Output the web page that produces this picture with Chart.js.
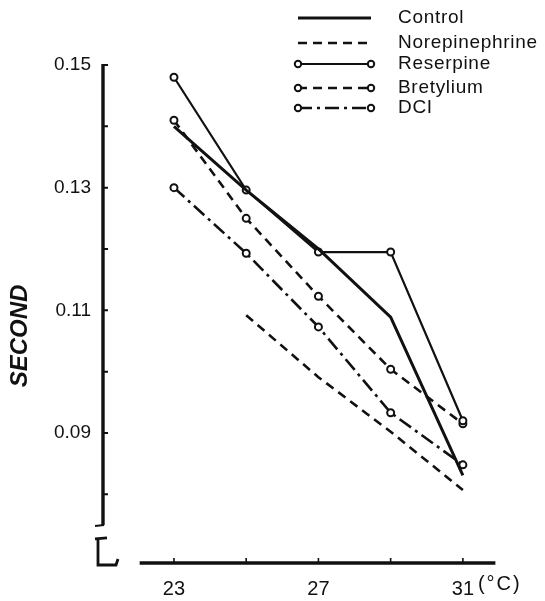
<!DOCTYPE html>
<html>
<head>
<meta charset="utf-8">
<script src="https://cdn.jsdelivr.net/npm/chart.js@4.4.1/dist/chart.umd.min.js"></script>
<style>
  html, body { margin: 0; padding: 0; background: #fff; }
  #wrap { width: 545px; height: 601px; }
</style>
</head>
<body>
<div id="wrap"><canvas id="c" width="545" height="601"></canvas></div>
<script>
// ---- data ----
const temps = [23, 25, 27, 29, 31];
const control        = [0.140, 0.1296, 0.120, 0.1089, 0.0831];
const norepinephrine = [null,  0.1092, 0.0991, 0.0902, 0.0807];
const reserpine      = [0.148, 0.1296, 0.1195, 0.1195, 0.0920];
const bretylium      = [0.141, 0.1250, 0.1123, 0.1004, 0.0915];
const dci            = [0.130, 0.1193, 0.1073, 0.0933, 0.0848];
const seriesNames = ['Control', 'Norepinephrine', 'Reserpine', 'Bretylium', 'DCI'];
const xTickValues = [23, 27, 31];
const xTickLabels = ['23', '27', '31'];
const xUnit = '(°C)';
const yTickValues = [0.09, 0.11, 0.13, 0.15];
const yTickLabels = ['0.09', '0.11', '0.13', '0.15'];
const yMinorTicks = [0.08, 0.09, 0.10, 0.11, 0.12, 0.13, 0.14, 0.15];
const xMinorTicks = [23, 25, 27, 29, 31];
const yTitle = 'SECOND';

const INK = '#111';
const FONT = '"Liberation Sans", Arial, sans-serif';

function pts(arr) { return temps.map((t, i) => ({ x: t, y: arr[i] })); }

const styles = [
  { borderWidth: 3,   dash: [],             marker: false },
  { borderWidth: 2.6, dash: [9, 6],         marker: false },
  { borderWidth: 2.2, dash: [],             marker: true },
  { borderWidth: 2.6, dash: [9, 6],         marker: true },
  { borderWidth: 2.6, dash: [14, 5, 3, 5],  marker: true }
];
const seriesData = [control, norepinephrine, reserpine, bretylium, dci];

const datasets = seriesData.map((arr, i) => ({
  label: seriesNames[i],
  data: pts(arr),
  borderColor: INK,
  borderWidth: styles[i].borderWidth,
  borderDash: styles[i].dash,
  backgroundColor: '#fff',
  pointRadius: styles[i].marker ? 3.5 : 0,
  pointHoverRadius: styles[i].marker ? 3.5 : 0,
  pointBorderWidth: 2,
  pointBorderColor: INK,
  pointBackgroundColor: '#fff',
  tension: 0,
  spanGaps: false,
  fill: false
}));

const legendRows = [18, 43, 64, 88, 108];

const paperAxes = {
  id: 'paperAxes',
  afterDraw(chart) {
    const { ctx, chartArea: a, scales: { x, y } } = chart;
    ctx.save();
    ctx.strokeStyle = INK;
    ctx.fillStyle = INK;
    ctx.setLineDash([]);
    // y axis
    const yl = a.left;
    const yTop = y.getPixelForValue(0.15);
    const yBot = y.getPixelForValue(0.075);
    ctx.lineWidth = 3.4;
    ctx.beginPath(); ctx.moveTo(yl, yTop - 1); ctx.lineTo(yl, yBot); ctx.stroke();
    ctx.lineWidth = 2;
    ctx.beginPath();
    yMinorTicks.forEach(v => { const p = y.getPixelForValue(v); ctx.moveTo(yl, p); ctx.lineTo(yl + 5, p); });
    ctx.moveTo(yl + 1, yBot); ctx.lineTo(yl - 8, yBot + 1);
    ctx.stroke();
    // axis break symbol
    const by = yBot + 13;
    ctx.lineWidth = 2.8;
    ctx.beginPath();
    ctx.moveTo(yl - 8, by + 1); ctx.lineTo(yl + 4, by);
    ctx.moveTo(yl - 5, by); ctx.lineTo(yl - 5, by + 27); ctx.lineTo(yl + 13, by + 27); ctx.lineTo(yl + 15, by + 21);
    ctx.stroke();
    // x axis
    const xb = a.bottom;
    ctx.lineWidth = 3.4;
    ctx.beginPath(); ctx.moveTo(x.getPixelForValue(22.05), xb); ctx.lineTo(x.getPixelForValue(31.9), xb); ctx.stroke();
    ctx.lineWidth = 1.6;
    ctx.beginPath();
    xMinorTicks.forEach(v => { const p = x.getPixelForValue(v); ctx.moveTo(p, xb); ctx.lineTo(p, xb - 5); });
    ctx.stroke();
    // unit label after last tick
    ctx.font = '20px ' + FONT;
    try { ctx.letterSpacing = '2px'; } catch (e) {}
    ctx.textAlign = 'left';
    ctx.textBaseline = 'middle';
    ctx.fillText(xUnit, x.getPixelForValue(31) + 15, xb + 21);
    try { ctx.letterSpacing = '0px'; } catch (e) {}
    // y title
    ctx.save();
    ctx.translate(20, 336);
    ctx.rotate(-Math.PI / 2);
    ctx.font = 'italic bold 24px ' + FONT;
    ctx.textAlign = 'center';
    ctx.textBaseline = 'middle';
    ctx.fillText(yTitle, 0, 0);
    ctx.restore();
    // legend
    chart.data.datasets.forEach((ds, i) => {
      const ly = legendRows[i];
      const x0 = 298, x1 = 371;
      ctx.setLineDash(ds.borderDash || []);
      ctx.lineWidth = ds.borderWidth;
      ctx.beginPath(); ctx.moveTo(x0, ly); ctx.lineTo(x1, ly); ctx.stroke();
      ctx.setLineDash([]);
      if (ds.pointRadius > 0) {
        ctx.lineWidth = 2;
        [x0, x1].forEach(px => {
          ctx.beginPath(); ctx.arc(px, ly, 3.2, 0, Math.PI * 2);
          ctx.fillStyle = '#fff'; ctx.fill(); ctx.stroke();
        });
      }
      ctx.fillStyle = INK;
      ctx.font = '19px ' + FONT;
      try { ctx.letterSpacing = '0.7px'; } catch (e) {}
      ctx.textAlign = 'left';
      ctx.textBaseline = 'middle';
      ctx.fillText(ds.label, 398, ly);
      try { ctx.letterSpacing = '0px'; } catch (e) {}
    });
    ctx.restore();
  }
};

new Chart(document.getElementById('c'), {
  type: 'line',
  data: { datasets },
  options: {
    responsive: false,
    animation: false,
    events: [],
    layout: { padding: { top: 65, right: 46, left: 0, bottom: 0 } },
    plugins: { legend: { display: false }, tooltip: { enabled: false } },
    scales: {
      x: {
        type: 'linear',
        min: 21.035,
        max: 32,
        grid: { display: false },
        border: { display: false },
        afterFit(s) { s.height = 38; },
        afterBuildTicks(s) { s.ticks = xTickValues.map(v => ({ value: v })); },
        ticks: {
          color: INK,
          padding: 6,
          font: { family: FONT, size: 20 },
          maxRotation: 0,
          callback(v) { const i = xTickValues.indexOf(v); return i >= 0 ? xTickLabels[i] : ''; }
        }
      },
      y: {
        type: 'linear',
        min: 0.0688,
        max: 0.15,
        grid: { display: false },
        border: { display: false },
        afterFit(s) { s.width = 103; },
        afterBuildTicks(s) { s.ticks = yTickValues.map(v => ({ value: v })); },
        ticks: {
          color: INK,
          padding: 4,
          font: { family: FONT, size: 19 },
          callback(v) {
            const i = yTickValues.findIndex(t => Math.abs(t - v) < 1e-9);
            return i >= 0 ? yTickLabels[i] : '';
          }
        }
      }
    }
  },
  plugins: [paperAxes]
});
</script>
</body>
</html>
